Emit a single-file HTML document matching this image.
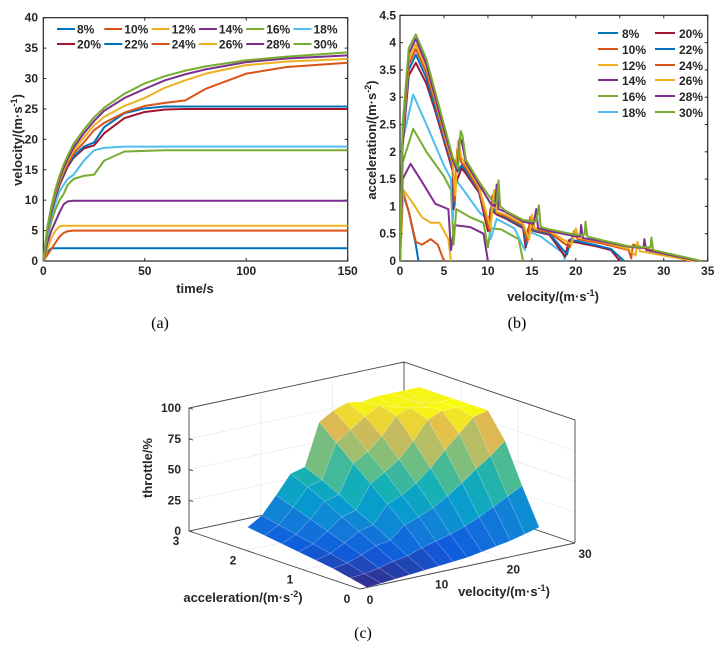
<!DOCTYPE html>
<html><head><meta charset="utf-8"><style>
html,body{margin:0;padding:0;background:#fff;}
svg{display:block;font-family:"Liberation Sans",sans-serif;}
.tk{font-size:12px;font-weight:bold;fill:#262626;}
.lb{font-size:13px;font-weight:bold;fill:#262626;}
.cap{font-family:"Liberation Serif",serif;font-size:16px;fill:#000;}
</style></head><body>
<svg id="svg" width="726" height="647" viewBox="0 0 726 647" xmlns="http://www.w3.org/2000/svg">
<defs>
<clipPath id="ca"><rect x="43" y="17" width="305" height="245"/></clipPath>
<clipPath id="cb"><rect x="400" y="15" width="308" height="247"/></clipPath>
</defs>
<g id="ga"></g>
<g id="gb"></g>
<g id="gc"></g>
<text class="cap" x="160" y="328" text-anchor="middle">(a)</text>
<text class="cap" x="517" y="328" text-anchor="middle">(b)</text>
<text class="cap" x="363" y="638" text-anchor="middle">(c)</text>
</svg>
<script>
const colors=["#0072BD","#D95319","#EDB120","#7E2F8E","#77AC30","#4DBEEE","#A2142F","#0072BD","#D95319","#EDB120","#7E2F8E","#77AC30"];
const seriesNames=["8%","10%","12%","14%","16%","18%","20%","22%","24%","26%","28%","30%"];
// chart (a)
const timeS=[0,2,4,6,8,10,12,15,20,25,30,40,50,60,70,80,100,120,150];
const vel8=[0,1.5,2.1,2.1,2.1,2.1,2.1,2.1,2.1,2.1,2.1,2.1,2.1,2.1,2.1,2.1,2.1,2.1,2.1];
const vel10=[0,1,2,3,4,4.6,4.9,5,5,5,5,5,5,5,5,5,5,5,5];
const vel12=[0,2,3.8,5,5.7,5.8,5.8,5.8,5.8,5.8,5.8,5.8,5.8,5.8,5.8,5.8,5.8,5.8,5.8];
const vel14=[0,3,5,6.5,8,9.3,9.8,9.9,9.9,9.9,9.9,9.9,9.9,9.9,9.9,9.9,9.9,9.9,9.9];
const vel16=[0,4,6.5,8.5,10,11,12.5,13.5,14,14.2,16.5,18,18.1,18.2,18.2,18.2,18.2,18.2,18.2];
const vel18=[0,4.5,7.5,9.5,11.5,12.5,13.5,14.2,16.5,18.2,18.6,18.8,18.8,18.8,18.8,18.8,18.8,18.8,18.8];
const vel20=[0,5,8,10.5,12.5,14,15.5,17,18.5,19,21,23.5,24.5,24.9,25,25,25,25,25];
const vel22=[0,5,8.2,10.8,12.8,14.3,15.8,17.2,18.8,19.5,22,24.3,25.1,25.4,25.4,25.4,25.4,25.4,25.4];
const vel24=[0,5.2,8.5,11,13,14.6,16,17.7,19.5,21.5,22.7,24.4,25.5,26,26.4,28.3,30.8,31.9,32.6];
const vel26=[0,5.3,8.7,11.2,13.3,14.9,16.4,18.2,20.3,22.3,23.7,25.5,26.8,28.5,29.7,30.8,32.2,32.8,33.2];
const vel28=[0,5.4,8.9,11.5,13.6,15.3,16.8,18.7,21,23,24.7,26.8,28.3,29.7,30.7,31.5,32.7,33.3,33.8];
const vel30=[0,5.5,9.1,11.8,14,15.8,17.3,19.3,21.6,23.6,25.2,27.5,29.2,30.4,31.3,32,33,33.6,34.3];
const velSeries=[vel8,vel10,vel12,vel14,vel16,vel18,vel20,vel22,vel24,vel26,vel28,vel30];
const xTicksA=[0,50,100,150];
const yTicksA=[0,5,10,15,20,25,30,35,40];
// chart (b)
const bV8=[0,0.2,1,1.8,2.1], bA8=[0,1.3,0.9,0.3,0];
const bV10=[0,0.3,1,1.8,2.5,3.5,4.3,5], bA10=[0,1.3,0.9,0.35,0.3,0.4,0.3,0];
const bV12=[0,0.4,1.5,2.5,3.5,4.5,5.5,5.8], bA12=[0,1.3,1.05,0.8,0.7,0.7,0.4,0];
const bV14=[0,0.3,1.2,2.5,4,5.5,5.8,6.2,6.5,8,9.5,10], bA14=[0,1.5,1.78,1.45,1.05,0.95,0.2,0.65,0.65,0.62,0.5,0];
const bV16=[0,0.3,1.5,3,5,5.8,6.1,6.4,8,9.5,10,10.3,11.5,13.5,14], bA16=[0,1.8,2.42,2.0,1.55,1.3,0.3,0.95,0.8,0.7,0.25,0.6,0.58,0.4,0];
const bV18=[0,0.3,1.5,3,5,5.8,6.0,6.3,7,9,10,10.3,11,13,14.2,14.5,16,18.5,18.8], bA18=[0,2.2,3.05,2.5,1.75,1.5,0.75,1.5,1.35,0.9,0.75,0.4,0.77,0.6,0.2,0.55,0.45,0.15,0];
const bV20=[0,0.3,1,1.8,3,4,5,6,6.1,6.3,7,7.5,9,10,10.3,11,12,14,14.3,14.6,15.2,17,18.8,19.2,19.5,22,24,25], bA20=[0,2.1,3.4,3.63,3.25,2.75,2.2,1.65,0.95,1.4,1.7,1.6,1.25,0.55,0.95,0.85,0.78,0.6,0.25,0.6,0.55,0.48,0.08,0.38,0.36,0.28,0.2,0];
const bV22=[0,0.3,1,1.8,3,4,5,6,6.2,6.4,7,7.5,9,10.1,10.4,11,12,14,14.4,14.7,15.2,17,19,19.4,19.7,22,24,25.5], bA22=[0,2.2,3.5,3.78,3.35,2.8,2.25,1.7,1.0,1.6,1.75,1.65,1.28,0.6,1.0,0.87,0.8,0.62,0.3,0.62,0.56,0.5,0.12,0.4,0.38,0.3,0.22,0];
const bV24=[0,0.3,1,1.8,3,4,5,6,6.2,6.5,7,7.5,9,10.2,10.5,11,12,14,14.5,14.8,15.2,17,19.3,19.8,20.2,23,26,26.3,26.5,30,33], bA24=[0,2.3,3.6,3.88,3.45,2.9,2.3,1.75,1.1,2.05,1.8,1.7,1.3,0.55,1.2,0.88,0.82,0.65,0.35,0.8,0.58,0.52,0.25,0.55,0.4,0.32,0.2,0.05,0.3,0.13,0];
const bV26=[0,0.3,1,1.8,3,4,5,6,6.3,6.6,7,7.5,9,10.3,10.7,11,12,14,14.7,15,15.3,17,19.5,20,20.3,23,26,26.8,27,27.3,30,33.5], bA26=[0,2.3,3.7,3.97,3.55,2.95,2.35,1.8,1.2,2.2,1.9,1.75,1.35,0.6,1.3,0.9,0.85,0.68,0.4,0.85,0.6,0.55,0.3,0.6,0.42,0.35,0.22,0.1,0.35,0.18,0.1,0];
const bV28=[0,0.3,1,1.8,3,4,5,6,6.5,6.8,7,7.5,9,10.3,10.8,11,11.2,12,14,15.2,15.5,15.7,17,20,20.5,20.6,20.8,23,26,27.7,27.8,28,31,34], bA28=[0,2.4,3.8,4.07,3.6,3.0,2.4,1.85,1.65,2.25,2.2,1.8,1.4,1.05,1.0,1.4,0.95,0.9,0.72,0.68,0.95,0.6,0.55,0.45,0.45,0.66,0.42,0.36,0.26,0.24,0.4,0.2,0.1,0];
const bV30=[0,0.3,1,1.8,3,4,5,6,6.6,6.9,7.1,7.5,9,10.5,11,11.2,11.4,12,14,15.5,15.8,16,17,20,21,21.1,21.3,23,26,28.5,28.6,28.8,31,34.3], bA30=[0,2.5,3.9,4.15,3.7,3.1,2.5,1.9,1.7,2.38,2.3,1.85,1.45,1.1,1.05,1.48,1.0,0.92,0.75,0.72,1.02,0.62,0.58,0.48,0.48,0.72,0.45,0.38,0.27,0.25,0.43,0.2,0.12,0];
const bVel=[bV8,bV10,bV12,bV14,bV16,bV18,bV20,bV22,bV24,bV26,bV28,bV30];
const bAcc=[bA8,bA10,bA12,bA14,bA16,bA18,bA20,bA22,bA24,bA26,bA28,bA30];
const xTicksB=[0,5,10,15,20,25,30,35];
const yTicksB=[0,0.5,1,1.5,2,2.5,3,3.5,4,4.5];
// chart (c)
const accGrid=[0,0.3,0.6,0.9,1.2,1.5,1.8,2.1];
const velGrid=[1,3,5,7,9,11,13,15,17,19,21,23,25];
const thr0=[0,1,2,3,4,5,6,7,9,11,13,16,19];
const thr1=[3,4,6,9,11,15,18,21,25,30,36,42,48];
const thr2=[6,8,12,17,19,29,33,38,45,53,62,70,80];
const thr3=[8,11,17,24,27,41,46,53,63,75,86,97,100];
const thr4=[10,14,22,31,34,53,60,68,80,95,100,100,100];
const thr5=[12,17,27,39,42,65,72,82,96,100,98,100,100];
const thr6=[14,20,32,46,49,77,85,93,100,96,100,94,100];
const thr7=[16,23,37,52,55,89,96,100,98,100,100,100,100];
const throttle=[thr0,thr1,thr2,thr3,thr4,thr5,thr6,thr7];
const zTicks=[0,25,50,75,100], accTicks=[0,1,2,3], velTicks=[0,10,20,30];

const NS="http://www.w3.org/2000/svg";
function mk(parent,tag,attrs){const e=document.createElementNS(NS,tag);for(const k in attrs)e.setAttribute(k,attrs[k]);parent.appendChild(e);return e;}
function txt(parent,x,y,s,cls,anchor){const t=mk(parent,"text",{x:x,y:y,class:cls,"text-anchor":anchor||"middle"});t.textContent=s;return t;}

// ---------- chart a
const ga=document.getElementById("ga");
const xa=t=>43.3+t/150*304.4, ya=v=>261-v/40*243.3;
{
 const box=mk(ga,"rect",{x:43.3,y:17.7,width:304.4,height:243.3,fill:"#fff",stroke:"#262626","stroke-width":1.2});
 
 
 xTicksA.forEach(t=>{mk(ga,"line",{x1:xa(t),x2:xa(t),y1:261,y2:258,stroke:"#262626"});mk(ga,"line",{x1:xa(t),x2:xa(t),y1:17.7,y2:20.7,stroke:"#262626"});
  const l=txt(ga,xa(t),275,String(t),"tk");});
 yTicksA.forEach(v=>{mk(ga,"line",{x1:43.3,x2:46.3,y1:ya(v),y2:ya(v),stroke:"#262626"});mk(ga,"line",{x1:347.7,x2:344.7,y1:ya(v),y2:ya(v),stroke:"#262626"});
  const l=txt(ga,38,ya(v)+4,String(v),"tk","end");});
 const xt=txt(ga,195,293,"time/s","lb");
 const yt=mk(ga,"text",{x:0,y:0,class:"lb","text-anchor":"middle",transform:"translate(22,140) rotate(-90)"});
 yt.innerHTML='velocity/(m·s<tspan dy="-5" font-size="9">-1</tspan><tspan dy="5">)</tspan>';
 
 const g=mk(ga,"g",{"clip-path":"url(#ca)"});
 velSeries.forEach((s,i)=>{const p=mk(g,"polyline",{points:s.map((v,j)=>xa(timeS[j])+","+ya(v)).join(" "),fill:"none",stroke:colors[i],"stroke-width":2,"stroke-linejoin":"round"});
  });
 seriesNames.forEach((n,i)=>{const r=Math.floor(i/6),c=i%6;const x=57+c*47.3,y=29+r*15;
  const lg=mk(ga,"g",{});
  mk(lg,"line",{x1:x,x2:x+18,y1:y,y2:y,stroke:colors[i],"stroke-width":2});txt(lg,x+20,y+4.5,n,"tk","start");});
}
// ---------- chart b
const gb=document.getElementById("gb");
const xb=v=>400+v/35*307.7, yb=a=>261-a/4.5*245.7;
{
 const box=mk(gb,"rect",{x:400,y:15.3,width:307.7,height:245.7,fill:"#fff",stroke:"#262626","stroke-width":1.2});
 
 xTicksB.forEach(t=>{mk(gb,"line",{x1:xb(t),x2:xb(t),y1:261,y2:258,stroke:"#262626"});mk(gb,"line",{x1:xb(t),x2:xb(t),y1:15.3,y2:18.3,stroke:"#262626"});
  const l=txt(gb,xb(t),275,String(t),"tk");});
 yTicksB.forEach(v=>{mk(gb,"line",{x1:400,x2:403,y1:yb(v),y2:yb(v),stroke:"#262626"});mk(gb,"line",{x1:707.7,x2:704.7,y1:yb(v),y2:yb(v),stroke:"#262626"});
  const l=txt(gb,396,yb(v)+4,String(v),"tk","end");});
 const xt=mk(gb,"text",{x:553,y:301,class:"lb","text-anchor":"middle"});
 xt.innerHTML='velocity/(m·s<tspan dy="-5" font-size="9">-1</tspan><tspan dy="5">)</tspan>';
 
 const yt=mk(gb,"text",{x:0,y:0,class:"lb","text-anchor":"middle",transform:"translate(376,140) rotate(-90)"});
 yt.innerHTML='acceleration/(m·s<tspan dy="-5" font-size="9">-2</tspan><tspan dy="5">)</tspan>';
 
 const g=mk(gb,"g",{"clip-path":"url(#cb)"});
 bVel.forEach((vs,i)=>{const p=mk(g,"polyline",{points:vs.map((v,j)=>xb(v)+","+yb(bAcc[i][j])).join(" "),fill:"none",stroke:colors[i],"stroke-width":2,"stroke-linejoin":"round"});
  });
 seriesNames.forEach((n,i)=>{const c=Math.floor(i/6),r=i%6;const x=c?655:598,y=[33,49,65,80,96,112][r];
  const lg=mk(gb,"g",{});
  mk(lg,"line",{x1:x,x2:x+20,y1:y,y2:y,stroke:colors[i],"stroke-width":2});txt(lg,x+24,y+5,n,"tk","start");});
}
// ---------- chart c
const gc=document.getElementById("gc");
const F=[360,589],LA=[-57,-19.33],LV=[7.167,-1.533],ZS=1.23;
function P(a,v,z){return [F[0]+a*LA[0]+v*LV[0],F[1]+a*LA[1]+v*LV[1]-z*ZS];}
function pt(p){return p[0].toFixed(1)+","+p[1].toFixed(1);}
const parula=[[53,42,135],[15,92,221],[18,125,216],[7,156,207],[21,177,180],[89,189,140],[165,190,107],[225,185,82],[249,251,14]];
function cmap(z){let t=Math.max(0,Math.min(1,z/100))*8;const i=Math.min(7,Math.floor(t)),f=t-i;const a=parula[i],b=parula[i+1];
 return "rgb("+[0,1,2].map(k=>Math.round(a[k]+(b[k]-a[k])*f)).join(",")+")";}
{
 const grid=mk(gc,"g",{stroke:"#ebebeb","stroke-width":0.8,fill:"none"});
 
 zTicks.slice(1,4).forEach(z=>{mk(grid,"polyline",{points:[P(3,0,z),P(3,30,z),P(0,30,z)].map(pt).join(" ")});});
 [10,20].forEach(v=>{mk(grid,"polyline",{points:[P(0,v,0),P(3,v,0),P(3,v,100)].map(pt).join(" ")});});
 [1,2].forEach(a=>{mk(grid,"polyline",{points:[P(a,0,0),P(a,30,0),P(a,30,100)].map(pt).join(" ")});});
 const edges=mk(gc,"g",{stroke:"#444","stroke-width":0.9,fill:"none"});
 
 mk(edges,"polyline",{points:[P(3,0,0),P(3,0,100),P(3,30,100),P(0,30,100),P(0,30,0)].map(pt).join(" ")});
 mk(edges,"line",{x1:P(3,30,0)[0],y1:P(3,30,0)[1],x2:P(3,30,100)[0],y2:P(3,30,100)[1]});
 mk(edges,"line",{x1:P(3,0,0)[0],y1:P(3,0,0)[1],x2:P(3,30,0)[0],y2:P(3,30,0)[1]});
 mk(edges,"line",{x1:P(3,30,0)[0],y1:P(3,30,0)[1],x2:P(0,30,0)[0],y2:P(0,30,0)[1]});
 mk(edges,"polyline",{points:[P(3,0,0),P(0,0,0),P(0,30,0)].map(pt).join(" ")});
 const cells=[];
 for(let i=0;i<accGrid.length-1;i++)for(let j=0;j<velGrid.length-1;j++){
  const a0=accGrid[i],a1=accGrid[i+1],v0=velGrid[j],v1=velGrid[j+1];
  const z00=throttle[i][j],z01=throttle[i][j+1],z10=throttle[i+1][j],z11=throttle[i+1][j+1];
  cells.push({d:(a0+a1)/6+(v0+v1)/60,pts:[P(a0,v0,z00),P(a0,v1,z01),P(a1,v1,z11),P(a1,v0,z10)],z:(z00+z01+z10+z11)/4});}
 cells.sort((p,q)=>q.d-p.d);
 const sg=mk(gc,"g",{});
 cells.forEach(c=>{const col=cmap(c.z);const poly=mk(sg,"polygon",{points:c.pts.map(pt).join(" "),fill:col,stroke:"rgba(255,255,255,0.3)","stroke-width":0.5,"stroke-linejoin":"round"});
  });
 zTicks.forEach(z=>{const p=P(3,0,z);mk(gc,"line",{x1:p[0],y1:p[1],x2:p[0]+4,y2:p[1]+1.3,stroke:"#444"});
  const l=txt(gc,p[0]-8,p[1]+4,String(z),"tk","end");});
 accTicks.forEach(a=>{const p=P(a,0,0);const l=txt(gc,p[0]-13,p[1]+14,String(a),"tk");});
 velTicks.forEach(v=>{const p=P(0,v,0);const l=txt(gc,p[0]+10,p[1]+15,String(v),"tk");});
 const zt=mk(gc,"text",{x:0,y:0,class:"lb","text-anchor":"middle",transform:"translate(152,468) rotate(-90)"});zt.textContent="throttle/%";
 
 const at=mk(gc,"text",{x:243,y:602,class:"lb","text-anchor":"middle"});
 at.innerHTML='acceleration/(m·s<tspan dy="-5" font-size="9">-2</tspan><tspan dy="5">)</tspan>';
 
 const vt=mk(gc,"text",{x:504,y:596,class:"lb","text-anchor":"middle"});
 vt.innerHTML='velocity/(m·s<tspan dy="-5" font-size="9">-1</tspan><tspan dy="5">)</tspan>';
 
}
</script>
</body></html>
